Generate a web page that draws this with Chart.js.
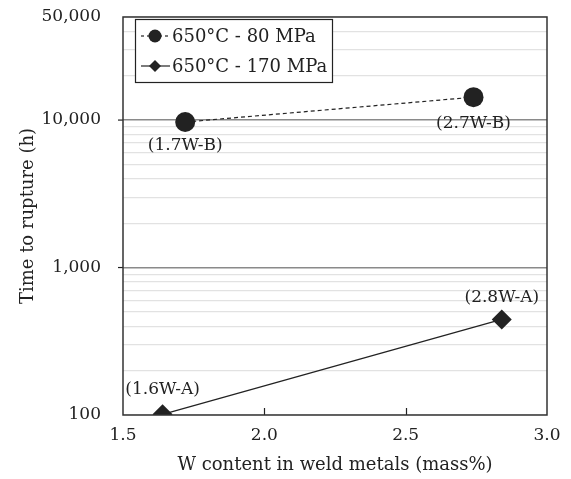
<!DOCTYPE html>
<html><head><meta charset="utf-8">
<script src="https://cdn.jsdelivr.net/npm/chart.js@4"></script>
<style>html,body{margin:0;padding:0;background:#fff}#wrap{width:571px;height:479px}</style>
</head><body><div id="wrap"><canvas id="c" width="571" height="479"></canvas></div>
<script>
const seriesNames = ['650°C - 80 MPa', '650°C - 170 MPa'];
const bW = [1.72, 2.74];
const bTime = [9700, 14300];
const bLabels = ['(1.7W-B)', '(2.7W-B)'];
const aW = [1.64, 2.84];
const aTime = [101, 445];
const aLabels = ['(1.6W-A)', '(2.8W-A)'];
const xTicks = [1.5, 2.0, 2.5, 3.0];
const yLabelTicks = [100, 1000, 10000, 50000];

const FONT = '"DejaVu Serif", serif';
const INK = '#222';

const yGrid = [];
for (let d = 100; d <= 1000; d *= 10) for (let m = 1; m <= 9; m++) yGrid.push(m * d);
yGrid.push(10000, 20000, 30000, 40000, 50000);

const pointLabels = {
  id: 'pointLabels',
  afterDatasetsDraw(chart) {
    const ctx = chart.ctx, xs = chart.scales.x, ys = chart.scales.y;
    ctx.save();
    ctx.font = '17px ' + FONT;
    ctx.fillStyle = INK;
    ctx.textAlign = 'center';
    ctx.textBaseline = 'middle';
    const put = (w, t, lab, dy, dx) => {
      ctx.fillText(lab, xs.getPixelForValue(w) + dx, ys.getPixelForValue(t) + dy);
    };
    put(bW[0], bTime[0], bLabels[0], 24, 0);
    put(bW[1], bTime[1], bLabels[1], 26, 0);
    put(aW[0], aTime[0], aLabels[0], -25, 0);
    put(aW[1], aTime[1], aLabels[1], -22, 0);
    const a = chart.chartArea;
    // inward x ticks
    ctx.strokeStyle = INK; ctx.lineWidth = 1.2;
    [2.0, 2.5].forEach(v => {
      const px = Math.round(xs.getPixelForValue(v)) + 0.5;
      ctx.beginPath(); ctx.moveTo(px, a.bottom); ctx.lineTo(px, a.bottom - 7); ctx.stroke();
    });
    // outward y ticks at decades
    [1000, 10000].forEach(v => {
      const py = ys.getPixelForValue(v);
      ctx.beginPath(); ctx.moveTo(a.left - 5, py); ctx.lineTo(a.left, py); ctx.stroke();
    });
    // frame
    ctx.strokeStyle = '#333'; ctx.lineWidth = 1.5;
    ctx.strokeRect(a.left, a.top, a.right - a.left, a.bottom - a.top);
    // legend
    const lx = 135, ly = 19, lw = 197, lh = 63;
    ctx.fillStyle = '#fff';
    ctx.fillRect(lx, ly, lw, lh);
    ctx.strokeStyle = '#222'; ctx.lineWidth = 1.2;
    ctx.strokeRect(lx + 0.5, ly + 0.5, lw, lh);
    const rows = [ly + 17, ly + 47];
    ctx.lineWidth = 1.2;
    ctx.setLineDash([3, 3]);
    ctx.beginPath(); ctx.moveTo(141, rows[0]); ctx.lineTo(170, rows[0]); ctx.stroke();
    ctx.setLineDash([]);
    ctx.fillStyle = INK;
    ctx.beginPath(); ctx.arc(155, rows[0], 6.5, 0, Math.PI * 2); ctx.fill();
    ctx.beginPath(); ctx.moveTo(141, rows[1]); ctx.lineTo(170, rows[1]); ctx.stroke();
    ctx.beginPath(); ctx.moveTo(155, rows[1] - 6); ctx.lineTo(161, rows[1]); ctx.lineTo(155, rows[1] + 6); ctx.lineTo(149, rows[1]); ctx.closePath(); ctx.fill();
    ctx.font = '18px ' + FONT;
    ctx.textAlign = 'left';
    ctx.fillText(seriesNames[0], 172, rows[0] + 1);
    ctx.fillText(seriesNames[1], 172, rows[1] + 1);
    ctx.restore();
  }
};

new Chart(document.getElementById('c'), {
  type: 'line',
  data: {
    datasets: [
      {
        label: seriesNames[0],
        data: bW.map((w, i) => ({ x: w, y: bTime[i] })),
        borderColor: INK, backgroundColor: INK, borderWidth: 1.2,
        borderDash: [4, 3], pointStyle: 'circle', pointRadius: 10, pointHoverRadius: 10,
        pointBorderWidth: 0
      },
      {
        label: seriesNames[1],
        data: aW.map((w, i) => ({ x: w, y: aTime[i] })),
        borderColor: INK, backgroundColor: INK, borderWidth: 1.2,
        pointStyle: 'rectRot', pointRadius: 10, pointHoverRadius: 10,
        pointBorderWidth: 0
      }
    ]
  },
  options: {
    responsive: false, animation: false,
    layout: { padding: { left: 14, top: 17, right: 24, bottom: 0 } },
    plugins: { legend: { display: false }, tooltip: { enabled: false } },
    elements: { line: { tension: 0 } },
    scales: {
      x: {
        type: 'linear', min: 1.5, max: 3.0,
        afterBuildTicks: s => { s.ticks = xTicks.map(v => ({ value: v })); },
        afterFit: s => { s.height = 64; },
        ticks: { font: { family: FONT, size: 17 }, color: INK, padding: 10,
          callback: v => Number(v).toFixed(1) },
        grid: { display: false, drawTicks: false },
        border: { display: false },
        title: { display: true, text: 'W content in weld metals (mass%)',
          font: { family: FONT, size: 18 }, color: INK, padding: { top: 4, bottom: 3 } }
      },
      y: {
        type: 'logarithmic', min: 100, max: 50000,
        afterBuildTicks: s => { s.ticks = yGrid.map(v => ({ value: v })); },
        afterFit: s => { s.width = 109; s.paddingTop = 0; s.paddingBottom = 0; },
        ticks: { font: { family: FONT, size: 17 }, color: INK, padding: 22, autoSkip: false,
          callback: v => yLabelTicks.includes(v) ? v.toLocaleString('en-US') : '' },
        grid: {
          drawTicks: false,
          color: ctx => {
            const v = ctx.tick && ctx.tick.value;
            if (v === 1000 || v === 10000) return '#8a8a8a';
            return '#e2e2e2';
          },
          lineWidth: ctx => {
            const v = ctx.tick && ctx.tick.value;
            return (v === 1000 || v === 10000) ? 1.5 : 1.2;
          }
        },
        border: { display: false },
        title: { display: true, text: 'Time to rupture (h)',
          font: { family: FONT, size: 18 }, color: INK, padding: { top: 4, bottom: 4 } }
      }
    }
  },
  plugins: [pointLabels]
});
</script></body></html>
